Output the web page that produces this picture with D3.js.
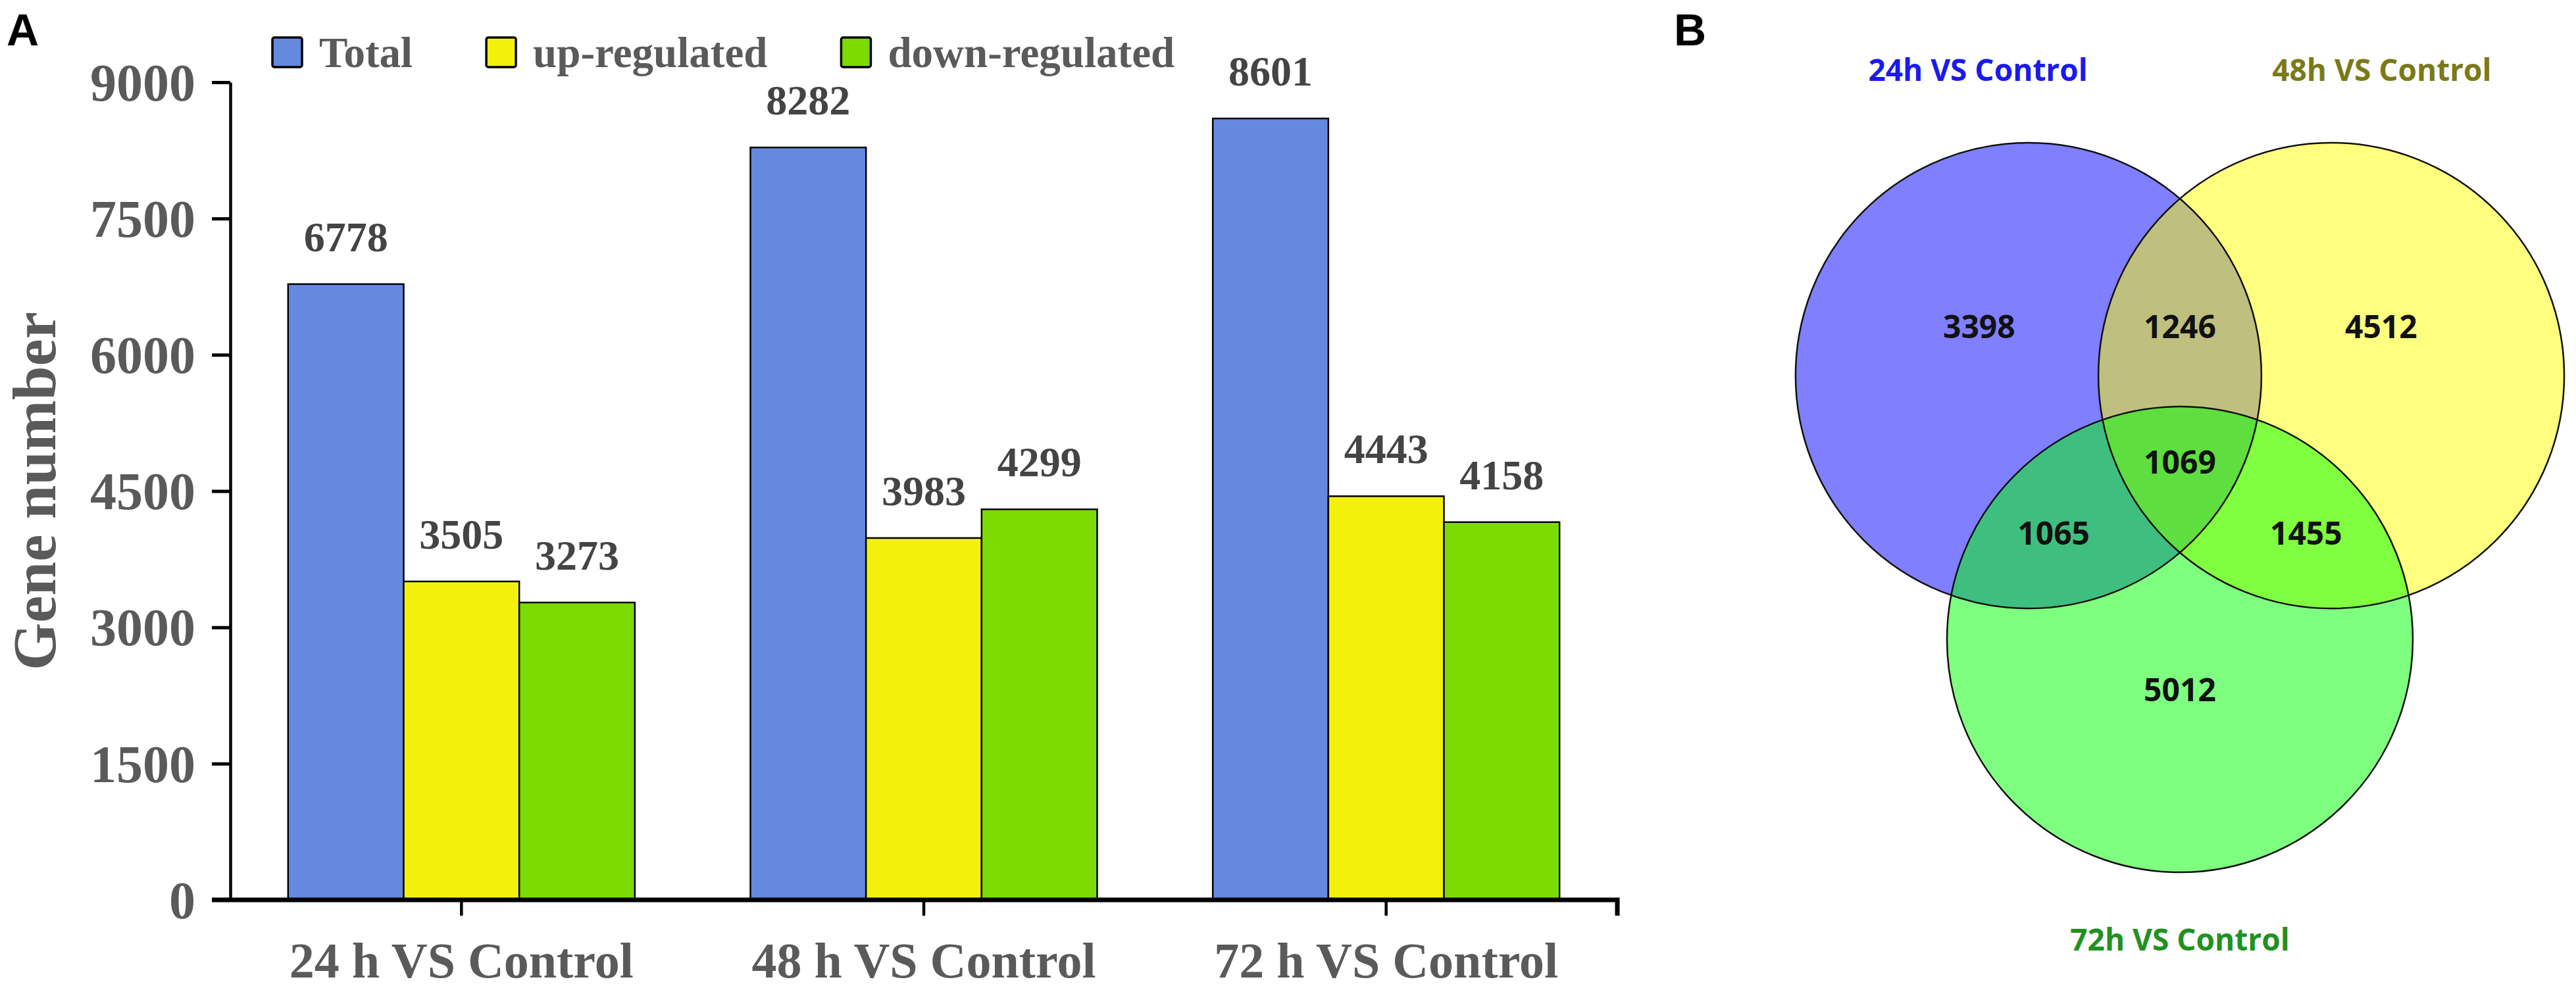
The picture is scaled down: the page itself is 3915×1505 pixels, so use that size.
<!DOCTYPE html>
<html lang="en">
  <head>
    <meta charset="UTF-8" />
    <title>DEG numbers and Venn</title>
    <style>
      body { margin: 0; background: #fff; }
      .serif { font-family: "Liberation Serif", "Times New Roman", serif; font-weight: bold; }
      .sans { font-family: "Open Sans", "DejaVu Sans", sans-serif; font-weight: bold; }
      .panel { font-family: "Liberation Sans", Arial, sans-serif; font-weight: bold; }
    </style>
  </head>
  <body>
    <svg id="svg" width="3915" height="1505"></svg>

    <script src="https://cdn.jsdelivr.net/npm/d3@7"></script>
    <script>
      const WIDTH = 3915;
      const HEIGHT = 1505;

      // panel A data
      const categories = ["24 h VS Control", "48 h VS Control", "72 h VS Control"];
      const seriesNames = ["Total", "up-regulated", "down-regulated"];
      const totalGenes = [6778, 8282, 8601];
      const upGenes = [3505, 3983, 4443];
      const downGenes = [3273, 4299, 4158];
      const yTicks = [0, 1500, 3000, 4500, 6000, 7500, 9000];
      const seriesColors = ["#6489de", "#f3f10c", "#7ddb04"];

      // panel B data
      const vennSets = ["24h VS Control", "48h VS Control", "72h VS Control"];
      const vennRegions = ["24h", "24h&48h", "48h", "24h&48h&72h", "24h&72h", "48h&72h", "72h"];
      const vennCounts = [3398, 1246, 4512, 1069, 1065, 1455, 5012];
      const vennColors = ["#0000ff", "#ffff00", "#00ff00"];
      const vennTitleColors = ["#1a1aee", "#7a7a16", "#219121"];

      // layout of the venn in circle-radius units
      const vennCenters = [[-0.65, 0], [0.65, 0], [0, 1.133]];
      const vennTitlePos = [[-0.867, -1.266], [0.867, -1.266], [0, 2.47]];
      const vennLabelPos = [
        [-0.862, -0.161], [0, -0.161], [0.864, -0.161],
        [0, 0.421], [-0.542, 0.726], [0.542, 0.726], [0, 1.398],
      ];

      const svg = d3.select("#svg");
      svg.append("rect").attr("width", WIDTH).attr("height", HEIGHT).attr("fill", "#fff");

      // ---------- Panel A ----------
      const rows = categories.map((c, i) => ({
        category: c,
        values: [totalGenes[i], upGenes[i], downGenes[i]],
      }));

      const y = d3.scaleLinear().domain([0, 9000]).range([1368, 125]);
      const x0 = d3.scaleBand().domain(categories).range([350, 2458]);
      const x1 = d3
        .scaleBand()
        .domain(seriesNames)
        .range([0, x0.bandwidth()])
        .paddingOuter(0.5);

      const TICK = 28;
      const grey = "#5a5a5a";

      // bars
      const groups = svg
        .append("g")
        .selectAll("g")
        .data(rows)
        .join("g")
        .attr("transform", (d) => `translate(${x0(d.category)},0)`);

      groups
        .selectAll("rect")
        .data((d) => d.values.map((v, i) => ({ name: seriesNames[i], value: v, i })))
        .join("rect")
        .attr("x", (d) => x1(d.name))
        .attr("y", (d) => y(d.value))
        .attr("width", x1.bandwidth())
        .attr("height", (d) => y(0) - y(d.value))
        .attr("fill", (d) => seriesColors[d.i])
        .attr("stroke", "#000")
        .attr("stroke-width", 2.5);

      groups
        .selectAll("text")
        .data((d) => d.values.map((v, i) => ({ name: seriesNames[i], value: v })))
        .join("text")
        .attr("class", "serif")
        .attr("x", (d) => x1(d.name) + x1.bandwidth() / 2)
        .attr("y", (d) => y(d.value) - 50)
        .attr("text-anchor", "middle")
        .attr("font-size", 64)
        .attr("fill", "#444")
        .text((d) => d.value);

      // y axis
      const leftAxis = d3
        .axisLeft(y)
        .tickValues(yTicks)
        .tickFormat(d3.format("d"))
        .tickSize(TICK)
        .tickSizeOuter(0)
        .tickPadding(25);
      const gy = svg
        .append("g")
        .attr("transform", `translate(${x0.range()[0]},0)`)
        .call(leftAxis);
      gy.select(".domain").attr("stroke-width", 4.5);
      gy.selectAll(".tick line").attr("stroke-width", 5);
      gy.selectAll(".tick text")
        .attr("class", "serif")
        .attr("font-size", 80)
        .attr("fill", grey)
        .attr("dy", "0.34em");

      // x axis
      const bottomAxis = d3.axisBottom(x0).tickSize(24).tickSizeOuter(0);
      const gx = svg
        .append("g")
        .attr("transform", `translate(0,${y(0)})`)
        .call(bottomAxis);
      gx.select(".domain")
        .attr("d", `M${x0.range()[0] - TICK},0H${x0.range()[1]}V24`)
        .attr("stroke-width", 7);
      gx.selectAll(".tick line").attr("stroke-width", 4.5);
      gx.selectAll(".tick text")
        .attr("class", "serif")
        .attr("font-size", 76)
        .attr("fill", grey)
        .attr("y", 118)
        .attr("dy", 0);
      gx.selectAll("text").attr("font-family", null);
      gy.selectAll("text").attr("font-family", null);

      // y title
      svg
        .append("text")
        .attr("class", "serif")
        .attr("transform", `translate(84,${(y(0) + y(9000)) / 2}) rotate(-90)`)
        .attr("text-anchor", "middle")
        .attr("font-size", 93)
        .attr("fill", grey)
        .text("Gene number");

      // legend
      const legend = svg.append("g").attr("transform", "translate(414,0)");
      let lx = 0;
      seriesNames.forEach((name, i) => {
        legend
          .append("rect")
          .attr("x", lx)
          .attr("y", 57)
          .attr("width", 45)
          .attr("height", 45)
          .attr("rx", 3)
          .attr("fill", seriesColors[i])
          .attr("stroke", "#000")
          .attr("stroke-width", 3.5);
        const t = legend
          .append("text")
          .attr("class", "serif")
          .attr("x", lx + 71)
          .attr("y", 102)
          .attr("font-size", 65)
          .attr("fill", grey)
          .text(name);
        lx += 71 + t.node().getComputedTextLength() + 112;
      });

      // ---------- Panel B ----------
      const R = 354;
      const vx = d3.scaleLinear().domain([-1, 1]).range([3313 - R, 3313 + R]);
      const vy = d3.scaleLinear().domain([-1, 1]).range([571 - R, 571 + R]);

      const venn = svg.append("g");
      venn
        .selectAll("circle.fill")
        .data(vennSets)
        .join("circle")
        .attr("class", "fill")
        .attr("cx", (d, i) => vx(vennCenters[i][0]))
        .attr("cy", (d, i) => vy(vennCenters[i][1]))
        .attr("r", R)
        .attr("fill", (d, i) => vennColors[i])
        .attr("fill-opacity", 0.5);
      venn
        .selectAll("circle.edge")
        .data(vennSets)
        .join("circle")
        .attr("class", "edge")
        .attr("cx", (d, i) => vx(vennCenters[i][0]))
        .attr("cy", (d, i) => vy(vennCenters[i][1]))
        .attr("r", R)
        .attr("fill", "none")
        .attr("stroke", "#111")
        .attr("stroke-width", 2.5);

      venn
        .selectAll("text.title")
        .data(vennSets)
        .join("text")
        .attr("class", "sans title")
        .attr("x", (d, i) => vx(vennTitlePos[i][0]))
        .attr("y", (d, i) => vy(vennTitlePos[i][1]))
        .attr("text-anchor", "middle")
        .attr("font-size", 46)
        .attr("fill", (d, i) => vennTitleColors[i])
        .text((d) => d);

      venn
        .selectAll("text.count")
        .data(vennRegions)
        .join("text")
        .attr("class", "sans count")
        .attr("x", (d, i) => vx(vennLabelPos[i][0]))
        .attr("y", (d, i) => vy(vennLabelPos[i][1]))
        .attr("text-anchor", "middle")
        .attr("font-size", 48)
        .attr("fill", "#111")
        .text((d, i) => vennCounts[i]);

      // panel letters
      svg.append("text").attr("class", "panel").attr("x", 10).attr("y", 69)
        .attr("font-size", 68).text("A");
      svg.append("text").attr("class", "panel").attr("x", 2544).attr("y", 69)
        .attr("font-size", 68).text("B");
    </script>
  </body>
</html>
